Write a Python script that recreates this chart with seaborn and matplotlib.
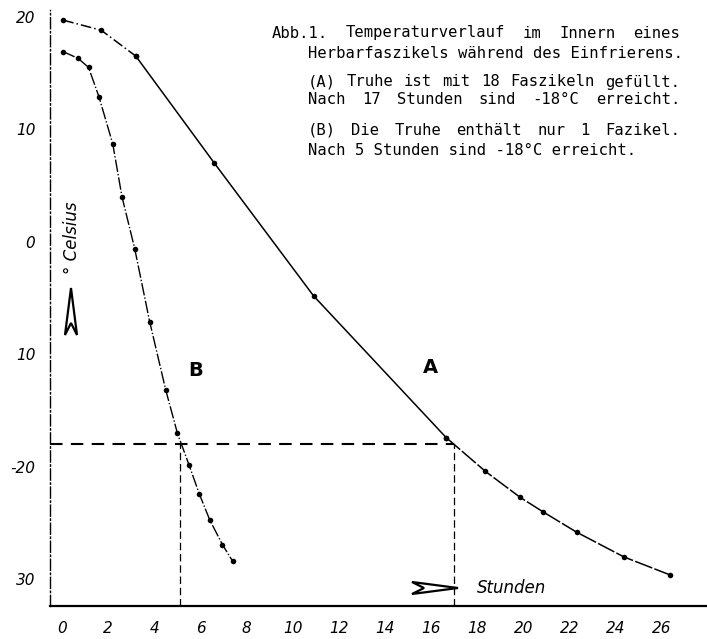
import matplotlib.pyplot as plt
import seaborn as sns
from matplotlib.patches import Polygon

# Temperature curves (hours, degrees Celsius)
hours_a = [0.05, 1.7, 3.2, 6.6, 10.9, 16.65, 18.35, 19.85, 20.85, 22.3, 24.35, 26.35]
temp_a = [19.7, 18.8, 16.5, 7.0, -4.8, -17.4, -20.4, -22.7, -24.0, -25.8, -28.0, -29.6]

hours_b = [0.05, 0.7, 1.15, 1.6, 2.2, 2.6, 3.15, 3.8, 4.5, 5.0, 5.5, 5.95, 6.4, 6.95, 7.4]
temp_b = [16.9, 16.3, 15.5, 12.9, 8.7, 4.0, -0.6, -7.1, -13.2, -17.0, -19.8, -22.4, -24.7, -26.9, -28.4]

target_temp = -18
cross_a = 17.0
cross_b = 5.1

x_ticks = list(range(0, 27, 2))
y_ticks = [20, 10, 0, -10, -20, -30]
y_tick_labels = ["20", "10", "0", "10", "-20", "30"]

caption = [
    "Abb.1. Temperaturverlauf im Innern eines",
    "Herbarfaszikels während des Einfrierens.",
    "(A) Truhe ist mit 18 Faszikeln gefüllt.",
    "Nach 17 Stunden sind -18°C erreicht.",
    "(B) Die Truhe enthält nur 1 Fazikel.",
    "Nach 5 Stunden sind -18°C erreicht.",
]

sns.set_style("white")
plt.rcParams.update({"text.color": "black", "xtick.color": "black",
                     "ytick.color": "black", "axes.labelcolor": "black"})

W, H = 707, 639
fig = plt.figure(figsize=(W / 100, H / 100), dpi=100)
ax = fig.add_axes([50 / W, 33 / H, 657 / W, 596 / H])


def fpx(x, y):
    # figure pixel -> figure fraction
    return (x / W, 1 - y / H)


dot = dict(color="black", marker="o", markersize=4, markeredgewidth=0, sort=False)

# curve A: dash-dot start, solid middle, long dashes at the end
sns.lineplot(x=hours_a[:3], y=temp_a[:3], ax=ax, lw=1.1, linestyle=(0, (7, 2, 1, 2)), **dot)
sns.lineplot(x=hours_a[2:6], y=temp_a[2:6], ax=ax, lw=1.1, linestyle="-", **dot)
sns.lineplot(x=hours_a[5:], y=temp_a[5:], ax=ax, lw=1.1, linestyle=(0, (12, 1.5)), **dot)

# curve B: dash-dot
sns.lineplot(x=hours_b, y=temp_b, ax=ax, lw=1.0, linestyle=(0, (9, 1.5, 1, 1.5)), **dot)

xlim = (-0.52, 27.95)
ylim = (-32.36, 20.6)
ax.set_xlim(*xlim)
ax.set_ylim(*ylim)

# -18 °C guide lines
ax.hlines(target_temp, xlim[0], cross_a, color="black", lw=1.5, linestyles=(0, (6, 4)))
ax.vlines([cross_a, cross_b], ylim[0], target_temp, color="black", lw=0.9, linestyles=(0, (6, 3)))

ax.text(5.8, -11.4, "B", fontsize=14, fontweight="bold", ha="center", va="center")
ax.text(15.95, -11.2, "A", fontsize=14, fontweight="bold", ha="center", va="center")

ax.set_xticks(x_ticks)
ax.set_xticklabels([str(t) for t in x_ticks], fontstyle="italic", fontsize=11)
ax.set_yticks(y_ticks)
ax.set_yticklabels(y_tick_labels, fontstyle="italic", fontsize=11)
ax.set_yticks([15, 5, -5, -15, -25], minor=True)
ax.tick_params(axis="both", which="both", direction="inout", length=3, width=1, color="black")
ax.tick_params(axis="x", pad=9)
ax.tick_params(axis="y", pad=9)
ax.set_xlabel("")
ax.set_ylabel("")

for side in ["top", "right"]:
    ax.spines[side].set_visible(False)
ax.spines["bottom"].set_linewidth(1.6)
ax.spines["bottom"].set_color("black")
ax.spines["left"].set_linewidth(1.0)
ax.spines["left"].set_color("black")
ax.spines["left"].set_linestyle((0, (8, 2, 1, 2)))

# axis names with the open arrows of the original
fig.text(*fpx(72, 238), "° Celsius", rotation=90, fontstyle="italic", fontsize=12,
         ha="center", va="center")
fig.text(*fpx(477, 588), "Stunden", fontstyle="italic", fontsize=12, ha="left", va="center")

up_arrow = Polygon([fpx(71, 288), fpx(77, 335), fpx(71, 323), fpx(65, 335)], closed=True,
                   fill=False, edgecolor="black", lw=1.6, transform=fig.transFigure)
right_arrow = Polygon([fpx(458, 588), fpx(412, 594), fpx(424, 588), fpx(412, 582)], closed=True,
                      fill=False, edgecolor="black", lw=1.6, transform=fig.transFigure)
fig.patches.extend([up_arrow, right_arrow])

# caption block, typewriter style, justified like the original
cap_size = 11.2
char_w = 0.602 * cap_size * 100 / 72
caption_pos = [(272, 33), (308, 53), (308, 82), (308, 100), (308, 130), (308, 150)]
justify = [True, False, True, True, True, False]
right_edge = 680
for line, (x, y), just in zip(caption, caption_pos, justify):
    if not just:
        fig.text(*fpx(x, y), line, family="DejaVu Sans Mono", fontsize=cap_size,
                 ha="left", va="center")
        continue
    words = line.split(" ")
    n_chars = sum(len(w) for w in words)
    gap = (right_edge - x - n_chars * char_w) / (len(words) - 1)
    pos = x
    for w in words:
        fig.text(*fpx(pos, y), w, family="DejaVu Sans Mono", fontsize=cap_size,
                 ha="left", va="center")
        pos += len(w) * char_w + gap

fig.savefig("out.png", dpi=100)
